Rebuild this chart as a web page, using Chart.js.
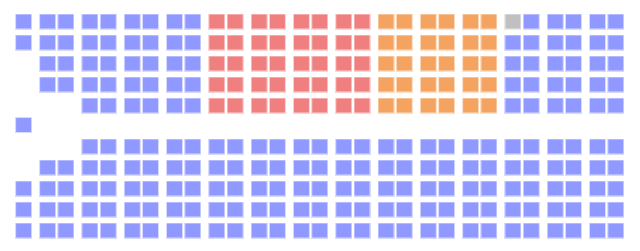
<!DOCTYPE html>
<html>
<head>
<meta charset="utf-8">
<script src="https://cdn.jsdelivr.net/npm/chart.js@4"></script>
<style>
  html, body { margin: 0; padding: 0; background: #ffffff; }
  #wrap { width: 640px; height: 251px; }
</style>
</head>
<body>
<div id="wrap"><canvas id="c" width="640" height="251"></canvas></div>
<script>
// ---- Data ----
const topParties = ['Blue', 'Red', 'Orange', 'Grey', 'Blue (cross)'];
const topBenchSeats = [40, 40, 30, 1, 29];
const bottomParties = ['Blue'];
const bottomBenchSeats = [141];
const speakerParties = ['Speaker'];
const speakerSeats = [1];
// seats per column, from the speaker end (left) to the right
const topColumnCapacity = [2, 4, 4, 5, 5, 5, 5, 5, 5, 5, 5, 5, 5, 5, 5, 5, 5, 5, 5, 5, 5, 5, 5, 5, 5, 5, 5, 5, 5];
const bottomColumnCapacity = [3, 4, 4, 5, 5, 5, 5, 5, 5, 5, 5, 5, 5, 5, 5, 5, 5, 5, 5, 5, 5, 5, 5, 5, 5, 5, 5, 5, 5];

// ---- Styles ----
const partyColors = {
  'Blue': '#9099FF',
  'Blue (cross)': '#9099FF',
  'Red': '#F08080',
  'Orange': '#F4A460',
  'Grey': '#C0C0C0',
  'Speaker': '#9099FF'
};

// ---- Layout (in scale units) ----
const PAIR_STEP = 42.3 / 18.3;   // distance between column pairs, in seat widths
const AISLE = 41 / 21;           // distance between the front rows of the two benches, in row steps
function colX(j) {
  const p = Math.floor((j + 1) / 2);
  const w = (j + 1) % 2;
  return p * PAIR_STEP + w;
}
const topRowY = k => k;                       // k = 0 is the back (top) row
const bottomRowY = k => 4 + AISLE + 4 - k;   // k = 0 is the back (bottom) row
const speakerY = (125 - 21.5) / 21;

function fillBench(parties, seats, capacity, rowY) {
  const out = parties.map(() => []);
  let pi = 0, left = seats[0];
  for (let j = 0; j < capacity.length; j++) {
    for (let k = 0; k < capacity[j]; k++) {
      while (pi < seats.length && left === 0) { pi++; left = seats[pi]; }
      if (pi >= seats.length) return out;
      out[pi].push({ x: colX(j), y: rowY(k) });
      left--;
    }
  }
  return out;
}

const seatImages = {};
function seatImage(color) {
  if (seatImages[color]) return seatImages[color];
  const cv = document.createElement('canvas');
  cv.width = 17; cv.height = 16;
  const g = cv.getContext('2d');
  g.globalAlpha = 0.35;
  g.fillStyle = color;
  g.fillRect(0, 0, 17, 16);
  g.globalAlpha = 1;
  g.clearRect(1, 1, 15, 14);
  g.fillStyle = color;
  g.fillRect(1, 1, 15, 14);
  seatImages[color] = cv;
  return cv;
}

const datasets = [];
function addBench(parties, pts) {
  parties.forEach((name, i) => {
    datasets.push({
      label: name,
      data: pts[i],
      pointStyle: seatImage(partyColors[name]),
      pointRadius: 8,
      backgroundColor: partyColors[name],
      borderColor: partyColors[name]
    });
  });
}
addBench(topParties, fillBench(topParties, topBenchSeats, topColumnCapacity, topRowY));
addBench(bottomParties, fillBench(bottomParties, bottomBenchSeats, bottomColumnCapacity, bottomRowY));
addBench(speakerParties, [[{ x: colX(0), y: speakerY }]]);

new Chart(document.getElementById('c'), {
  type: 'scatter',
  data: { datasets },
  options: {
    responsive: false,
    animation: false,
    layout: { padding: 0, autoPadding: false },
    plugins: { legend: { display: false }, tooltip: { enabled: false } },
    scales: {
      x: { type: 'linear', display: false, min: -5.3 / 18.3, max: (640 - 5.3) / 18.3 },
      y: { type: 'linear', display: false, reverse: true, min: -21.5 / 21, max: (251 - 21.5) / 21 }
    }
  }
});
</script>
</body>
</html>
